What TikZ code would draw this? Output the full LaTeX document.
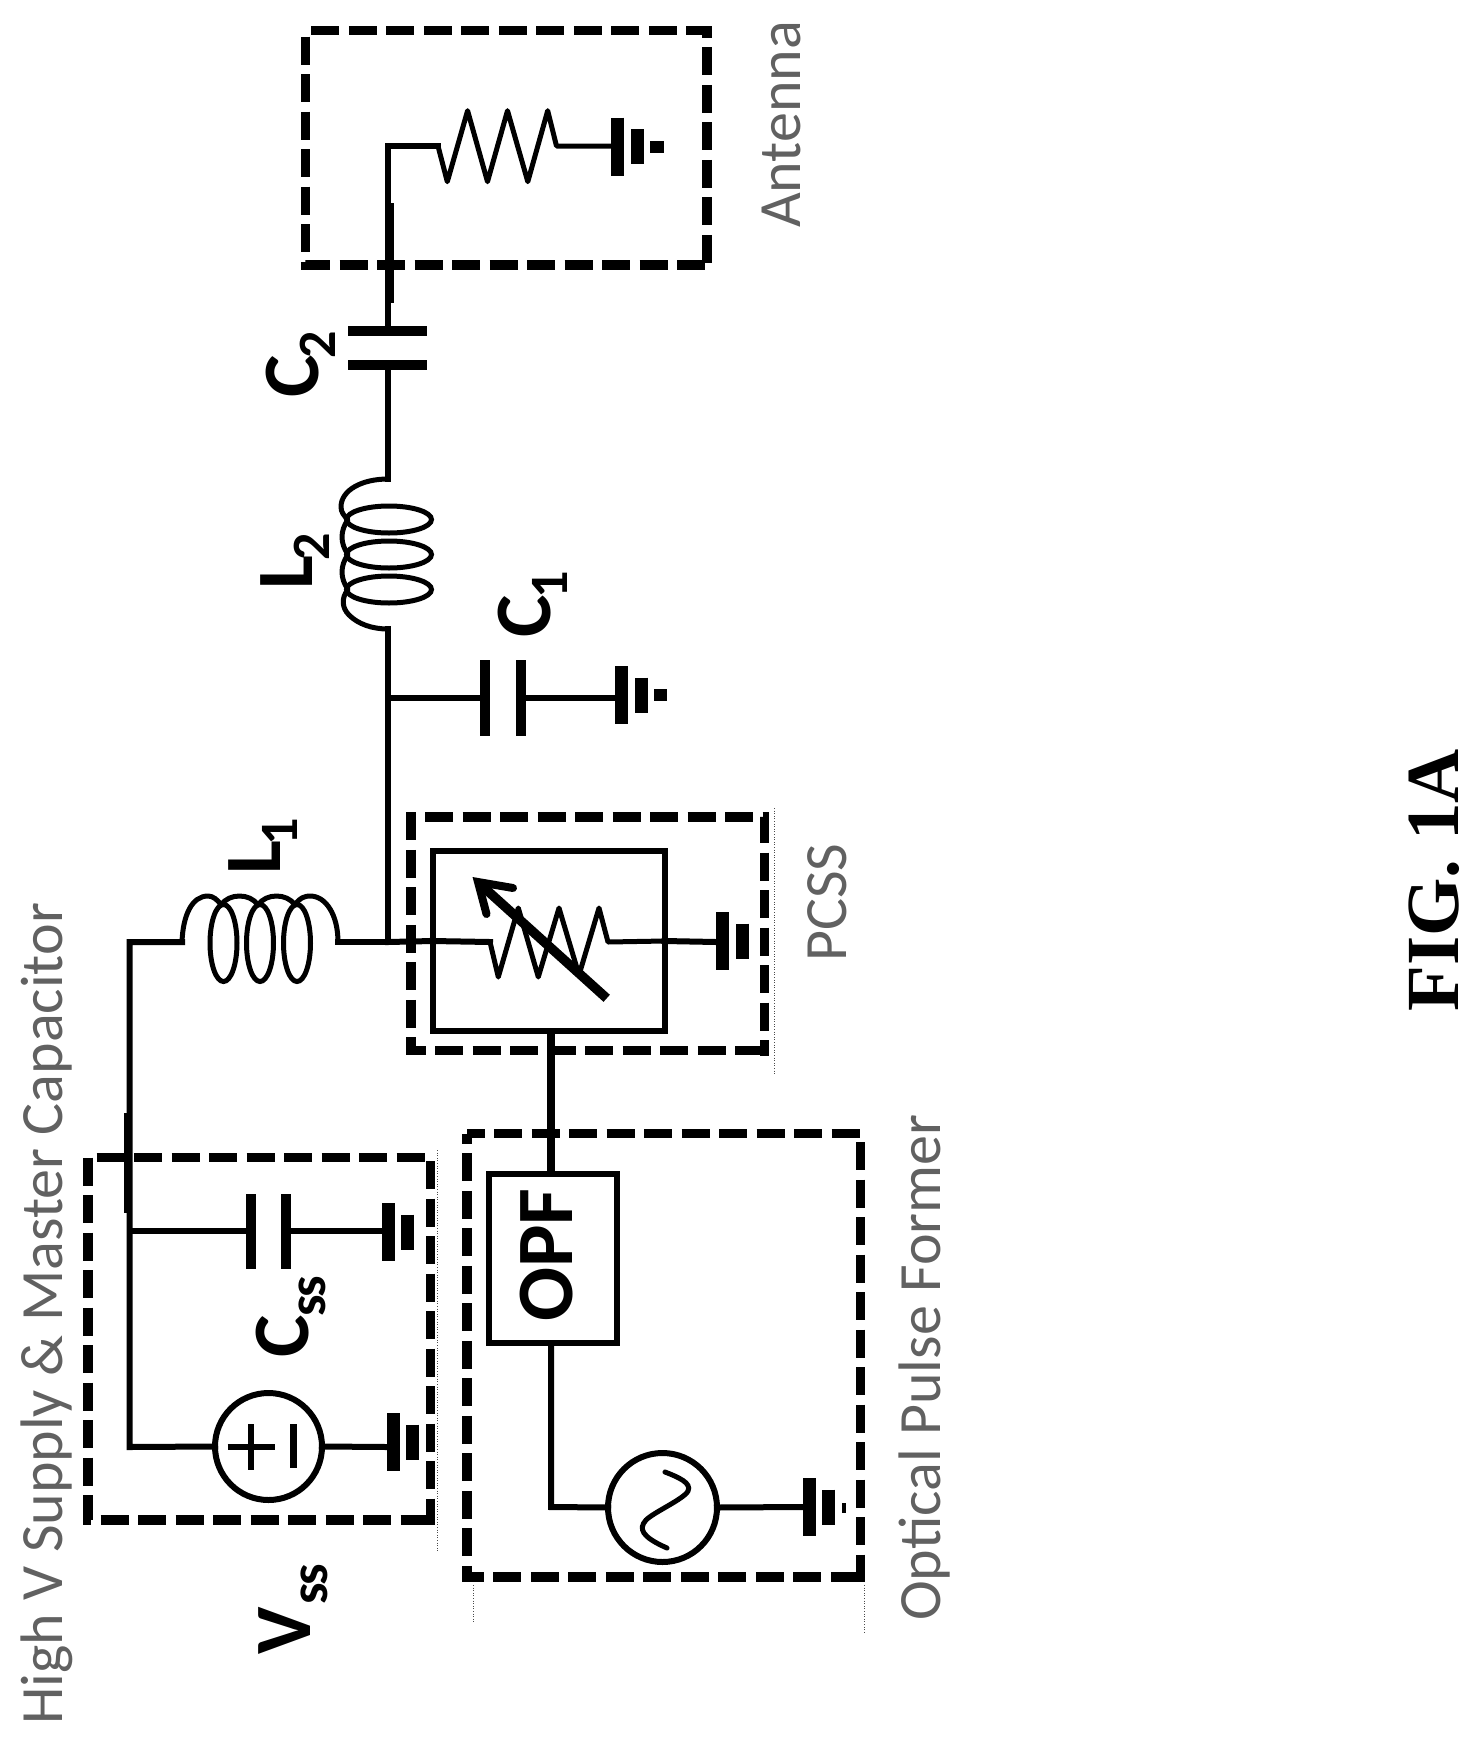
\documentclass[tikz,border=0pt]{standalone}
\usepackage{fontspec}
\setmainfont{Carlito}
\newfontfamily\figfont{Liberation Serif}
\newcommand{\gndsym}[2]{%
  \draw[plate] (#1+6.5,#2-29) -- (#1+6.5,#2+29);
  \draw[plate] (#1+26,#2-17.5) -- (#1+26,#2+17.5);}
\newcommand{\lblsub}[3][0pt]{#2\kern#1\raisebox{-17.5pt}{\fontsize{54}{54}\selectfont #3}}
\tikzset{
  wire/.style={line width=6pt,line join=miter,line cap=rect},
  thin wire/.style={line width=5pt,line join=round},
  stem/.style={line width=7.5pt},
  plate/.style={line width=13pt},
  capplate/.style={line width=10pt},
  dashA/.style={line width=9.5pt,dash pattern=on 28pt off 9.5pt,line join=miter},
  halo/.style={line width=.6pt,dotted,black!70},
  bigbox/.style={draw,line width=6pt,outer sep=0pt,inner sep=0pt},
  src/.style={circle,draw,line width=6pt,outer sep=0pt,inner sep=0pt,minimum size=107pt},
  caption/.style={rotate=90,anchor=base west,inner sep=0pt,text=black!62,font=\fontsize{60}{60}\selectfont},
  part/.style={rotate=90,anchor=base west,inner sep=0pt,font=\fontsize{80}{80}\selectfont\bfseries},
}
\begin{document}
\begin{tikzpicture}[x=1pt,y=-1pt]
\useasboundingbox (0,0) rectangle (1479,1745);

% named junctions
\coordinate (antTop) at (388,146);
\coordinate (antR) at (438,146);
\coordinate (antGnd) at (611,146);
\coordinate (c2a) at (388,326);
\coordinate (c2b) at (388,369);
\coordinate (l2top) at (388,479);
\coordinate (l2bot) at (388,629);
\coordinate (c1j) at (388,698);
\coordinate (c1a) at (480,698);
\coordinate (c1b) at (525,698);
\coordinate (c1g) at (615,698);
\coordinate (mainj) at (388,942);
\coordinate (l1r) at (338,942);
\coordinate (l1l) at (182,942);
\coordinate (hvTop) at (129.5,942);
\coordinate (cssj) at (129.5,1231);
\coordinate (cssa) at (247,1231);
\coordinate (cssb) at (291,1231);
\coordinate (cssg) at (382,1231);
\coordinate (hvBot) at (129.5,1447);
\coordinate (vsg) at (387,1447);
\coordinate (pcssIn) at (490,942);
\coordinate (pcssOut) at (608,942);
\coordinate (pcssg) at (716,942);
\coordinate (acBend) at (551,1507);
\coordinate (acg) at (803,1507);

% dashed frames
\draw[dashA,dash phase=28.8pt] (88,1157.5) -- (430.5,1157.5) -- (430.5,1525);
\draw[dashA] (88,1157.5) -- (88,1520) -- (430.5,1520);
\draw[dashA,dash phase=23.5pt] (411,817) -- (764.5,817) -- (764.5,1055.5);
\draw[dashA] (411,812.3) -- (411,1050.7) -- (764.5,1050.7);
\draw[dashA,dash phase=31.7pt] (305.5,30.5) -- (707,30.5) -- (707,269.5);
\draw[dashA,dash phase=31.3pt] (305.5,30.5) -- (305.5,265) -- (707,265);
\draw[dashA,dash phase=10.5pt] (467,1133.5) -- (860.5,1133.5) -- (860.5,1582);
\draw[dashA,dash phase=17.7pt] (467,1133.5) -- (467,1577) -- (860.5,1577);

% faint scan lines
\draw[halo] (774,808) -- (774,1075);
\draw[halo] (437,1150) -- (437,1552);
\draw[halo] (473,1585) -- (473,1622);
\draw[halo] (864.5,1585) -- (864.5,1632);

% boxes and sources
\node[bigbox,minimum width=232pt,minimum height=180pt] (pcss) at (548.5,941) {};
\node[bigbox,minimum width=128pt,minimum height=169pt] (opf) at (553,1258.5) {};
\node[rotate=90,inner sep=0pt,font=\fontsize{80}{80}\selectfont\bfseries] (opftext) at (547,1255) {OPF};
\node[src] (vs) at (268.5,1446.5) {};
\node[src,minimum size=109pt] (ac) at (662.5,1507.5) {};

% antenna branch
\draw[wire] (c2a) -- (antTop) -- (antR);
\draw[stem] (390,203) -- (390,303);
\draw[thin wire] (antR) -- (447.3,181.7) -- (467.6,110.7) -- (487.5,181.7) -- (507.5,110.7) -- (527.8,181.7) -- (547.7,110.7) -- (556.5,146) -- (antGnd);
\gndsym{611}{146.5}
\fill (650,141) rectangle (664,153);

% C2
\draw[capplate] (348,331) -- (427,331);
\draw[capplate] (348,364.5) -- (427,364.5);
\draw[wire] (c2b) -- (l2top);

% L2
\draw[thin wire] (l2top) .. controls (362,479) and (341,490) .. (341,507) .. controls (341,512) and (344,516) .. (348,519.5)
  .. controls (340,531) and (340,543) .. (348,554.5) .. controls (340,566) and (340,578) .. (348,589.5)
  .. controls (341,598) and (342,608) .. (349,615) .. controls (358,624) and (372,629) .. (l2bot);
\draw[line width=5pt] (389,519.5) ellipse (42.5 and 13.5);
\draw[line width=5pt] (389,554.5) ellipse (42.5 and 13.5);
\draw[line width=5pt] (389,589.5) ellipse (42.5 and 13.5);

% C1 branch
\draw[wire] (l2bot) -- (mainj);
\draw[wire] (c1j) -- (c1a);
\draw[capplate] (485,660) -- (485,736);
\draw[capplate] (520.5,660) -- (520.5,736);
\draw[wire] (c1b) -- (c1g);
\gndsym{615}{695}
\fill (654,689) rectangle (667,701);

% L1
\draw[wire] (mainj) -- (l1r);
\draw[wire] (mainj) -- (pcss.west);
\draw[wire] (l1l) -- (hvTop) -- (hvBot) -- (vs.west);
\draw[stem] (127.5,1113) -- (127.5,1213);
\draw[thin wire] (l1l) .. controls (183,915) and (192,896) .. (208,896) .. controls (213,896) and (218,900) .. (221,905)
  .. controls (229,893) and (250,893) .. (258,905) .. controls (266,893) and (287,893) .. (295,905)
  .. controls (300,897) and (306,896) .. (310,896) .. controls (326,896) and (338,915) .. (l1r);
\draw[line width=5pt] (223.5,943) ellipse (13.5 and 38.5);
\draw[line width=5pt] (260,943) ellipse (13.5 and 38.5);
\draw[line width=5pt] (297,943) ellipse (13.5 and 38.5);

% Css branch
\draw[wire] (cssj) -- (cssa);
\draw[capplate] (251,1194) -- (251,1269);
\draw[capplate] (286,1194) -- (286,1269);
\draw[wire] (cssb) -- (cssg);
\gndsym{381.7}{1232}

% V source
\draw[line width=5.5pt] (227.5,1447) -- (275,1447);
\draw[line width=5.5pt] (251,1424) -- (251,1469.5);
\draw[line width=7pt] (293.7,1424) -- (293.7,1468);
\draw[wire] (vs.east) -- (vsg);
\gndsym{386.7}{1442}

% PCSS content
\draw[wire] (pcss.west) -- (pcssIn);
\draw[thin wire] (pcssIn) -- (498.3,977) -- (518.3,908) -- (538.3,977) -- (559,908) -- (579,975) -- (599,908) -- (pcssOut) -- (pcss.east);
\draw[wire] (pcss.east) -- (pcssg);
\gndsym{716}{941}
\draw[line width=9.5pt] (606.7,998.3) -- (480,884);
\draw[line width=8pt,line cap=round,line join=miter,miter limit=10] (513,888) -- (478,882) -- (486.5,914);

% optical
\draw[line width=7.7pt] (pcss.south -| 550.7,0) -- (opf.north -| 550.7,0);
\draw[wire] (opf.south -| 551,0) -- (acBend) -- (ac.west);
\draw[line width=5pt,line cap=round] (665,1472) .. controls (678,1477) and (692,1483) .. (688,1491) .. controls (684,1499) and (654,1512) .. (646,1520) .. controls (638,1529) and (642,1537) .. (667,1548);
\draw[wire] (ac.east) -- (acg);
\gndsym{802.7}{1507}
\fill (842,1503) rectangle (846,1513);

% captions
\node[caption] (hvcap) at (62,1725) {High V Supply \& Master Capacitor};
\node[caption] (antcap) at (800,228) {Antenna};
\node[caption] (pcsscap) at (846,962) {PCSS};
\node[caption] (opfcap) at (940,1621) {Optical Pulse Former};

% part labels
\node[part] (vss) at (310,1655) {\lblsub[3pt]{V}{s\kern-3pt s}};
\node[part] (css) at (308,1358) {\lblsub[-1pt]{C}{s\kern-3pt s}};
\node[part] (l1) at (280,875) {\lblsub[-5pt]{L}{1}};
\node[part] (l2) at (312,590) {\lblsub[-5pt]{L}{2}};
\node[part] (c1) at (550,638) {\lblsub[-3pt]{C}{1}};
\node[part] (c2) at (318,398) {\lblsub[-3pt]{C}{2}};

\node[rotate=90,anchor=base west,inner sep=0pt,font=\figfont\fontsize{75}{75}\selectfont\bfseries] (fig) at (1458,1012) {FIG. 1A};
\end{tikzpicture}
\end{document}
